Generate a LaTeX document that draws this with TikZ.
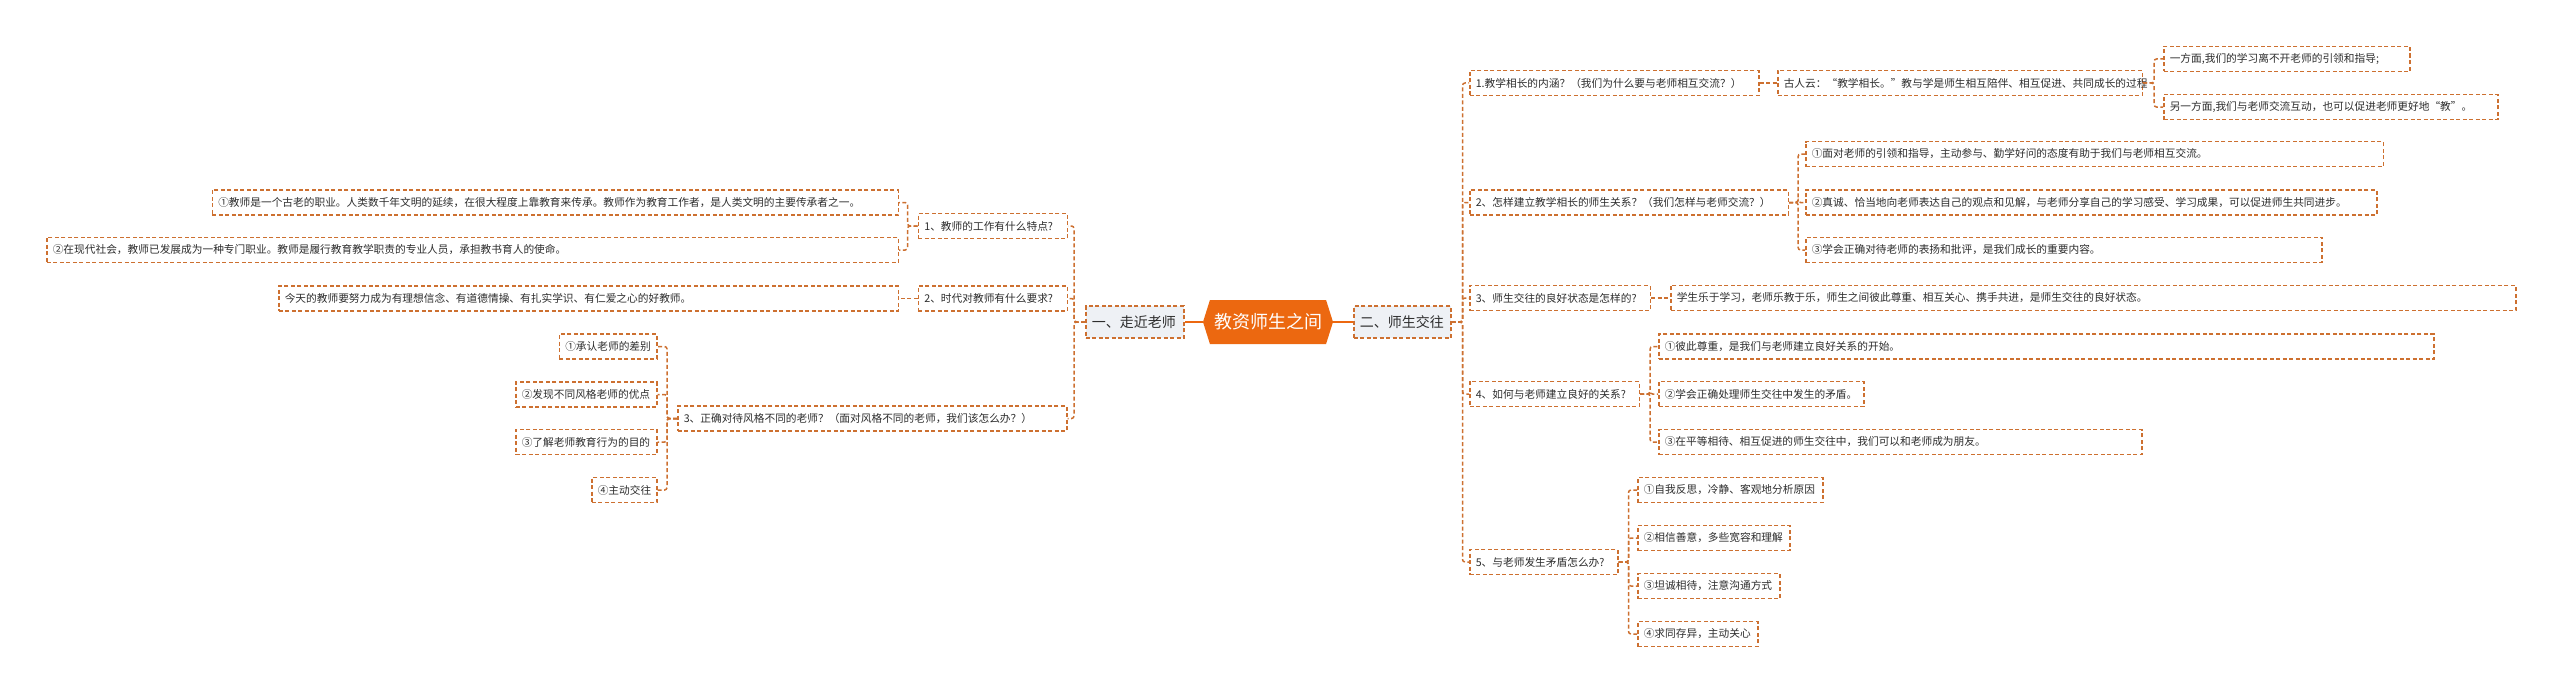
\documentclass[tikz,border=0pt]{standalone}
\usepackage{fontspec}
\setmainfont{Noto Sans CJK SC}
\usetikzlibrary{shapes.symbols}
\definecolor{linec}{RGB}{205,112,48}
\definecolor{mainor}{RGB}{236,104,16}
\definecolor{lvlone}{RGB}{238,241,245}
\definecolor{txt}{RGB}{45,45,45}
\tikzset{
 dline/.style={draw=linec, line width=1.5pt, dash pattern=on 4pt off 2.5pt},
 conn/.style={dline, rounded corners=2.5pt},
 box/.style={dline, fill=white, text=txt, font=\fontsize{10.7}{12}\selectfont, inner xsep=6pt, inner ysep=0pt, minimum height=25pt, anchor=west},
 topbox/.style={box, fill=lvlone, font=\fontsize{14}{16}\selectfont, minimum height=32pt},
 mainnode/.style={signal, signal to=east and west, signal pointer angle=145, fill=mainor, text=white, font=\fontsize{18}{20}\selectfont, minimum width=130pt, minimum height=44pt, inner sep=0pt},
 solidc/.style={draw=mainor, line width=2pt}
}
\newcommand{\bx}[6][box]{\node[#1, minimum width=#5pt] (#2) at (#3,#4) {\makebox[\dimexpr#5pt-12pt\relax][l]{#6}};}
\begin{document}
\begin{tikzpicture}[x=1pt,y=-1pt]
\fill[white] (0,0) rectangle (2560,693);
\useasboundingbox (0,0) rectangle (2560,693);
% centre
\node[mainnode] (main) at (1268,322) {教资师生之间};
\bx[topbox]{LA}{1085}{322}{98}{一、走近老师}
\bx[topbox]{RA}{1353}{322}{97}{二、师生交往}
\draw[solidc] (main.west) -- (LA.east);
\draw[solidc] (main.east) -- (RA.west);
% left side
\bx{L1}{917.6}{226}{149}{1、教师的工作有什么特点?}
\bx{L2}{917.6}{298.5}{149}{2、时代对教师有什么要求?}
\bx{L3}{677}{418.5}{389}{3、正确对待风格不同的老师？（面对风格不同的老师，我们该怎么办？）}
\bx{A1}{211.5}{202.5}{686}{①教师是一个古老的职业。人类数千年文明的延续，在很大程度上靠教育来传承。教师作为教育工作者，是人类文明的主要传承者之一。}
\bx{A2}{46}{250}{851.5}{②在现代社会，教师已发展成为一种专门职业。教师是履行教育教学职责的专业人员，承担教书育人的使命。}
\bx{B1}{278}{298.5}{619.5}{今天的教师要努力成为有理想信念、有道德情操、有扎实学识、有仁爱之心的好教师。}
\bx{C1}{558.5}{346.5}{97.5}{①承认老师的差别}
\bx{C2}{515}{394.5}{141}{②发现不同风格老师的优点}
\bx{C3}{515}{442}{141}{③了解老师教育行为的目的}
\bx{C4}{591}{490}{65}{④主动交往}
\foreach \c in {L1,L2,L3} \draw[conn] (LA.west) -- ++(-11,0) |- (\c.east);
\foreach \c in {A1,A2} \draw[conn] (L1.west) -- ++(-10,0) |- (\c.east);
\draw[conn] (L2.west) -- (B1.east);
\foreach \c in {C1,C2,C3,C4} \draw[conn] (L3.west) -- ++(-10,0) |- (\c.east);
% right side
\bx{R1}{1469}{83}{289}{1.教学相长的内涵？（我们为什么要与老师相互交流？）}
\bx{R1a}{1777}{83}{364.5}{古人云：“教学相长。”教与学是师生相互陪伴、相互促进、共同成长的过程}
\bx{R1aa}{2163}{59}{246}{一方面,我们的学习离不开老师的引领和指导;}
\bx{R1ab}{2163}{107}{334}{另一方面,我们与老师交流互动，也可以促进老师更好地“教”。}
\bx{R2}{1469}{202.5}{318.6}{2、怎样建立教学相长的师生关系？（我们怎样与老师交流？）}
\bx{R2a}{1805}{154}{577.6}{①面对老师的引领和指导，主动参与、勤学好问的态度有助于我们与老师相互交流。}
\bx{R2b}{1805}{202.5}{571}{②真诚、恰当地向老师表达自己的观点和见解，与老师分享自己的学习感受、学习成果，可以促进师生共同进步。}
\bx{R2c}{1805}{250}{516.4}{③学会正确对待老师的表扬和批评，是我们成长的重要内容。}
\bx{R3}{1469}{298}{180.6}{3、师生交往的良好状态是怎样的?}
\bx{R3a}{1670}{298}{845}{学生乐于学习，老师乐教于乐，师生之间彼此尊重、相互关心、携手共进，是师生交往的良好状态。}
\bx{R4}{1469}{394}{169.6}{4、如何与老师建立良好的关系?}
\bx{R4a}{1658}{346.5}{775}{①彼此尊重，是我们与老师建立良好关系的开始。}
\bx{R4b}{1658}{394}{205}{②学会正确处理师生交往中发生的矛盾。}
\bx{R4c}{1658}{442}{483}{③在平等相待、相互促进的师生交往中，我们可以和老师成为朋友。}
\bx{R5}{1469}{562}{148}{5、与老师发生矛盾怎么办?}
\bx{R5a}{1637}{490}{185}{①自我反思，冷静、客观地分析原因}
\bx{R5b}{1637}{538}{152}{②相信善意，多些宽容和理解}
\bx{R5c}{1637}{586}{142}{③坦诚相待，注意沟通方式}
\bx{R5d}{1637}{634}{120}{④求同存异，主动关心}
\foreach \c in {R1,R2,R3,R4,R5} \draw[conn] (RA.east) -- ++(11,0) |- (\c.west);
\draw[conn] (R1.east) -- (R1a.west);
\foreach \c in {R1aa,R1ab} \draw[conn] (R1a.east) -- ++(11,0) |- (\c.west);
\foreach \c in {R2a,R2b,R2c} \draw[conn] (R2.east) -- ++(9,0) |- (\c.west);
\draw[conn] (R3.east) -- (R3a.west);
\foreach \c in {R4a,R4b,R4c} \draw[conn] (R4.east) -- ++(10,0) |- (\c.west);
\foreach \c in {R5a,R5b,R5c,R5d} \draw[conn] (R5.east) -- ++(10,0) |- (\c.west);
\end{tikzpicture}
\end{document}
